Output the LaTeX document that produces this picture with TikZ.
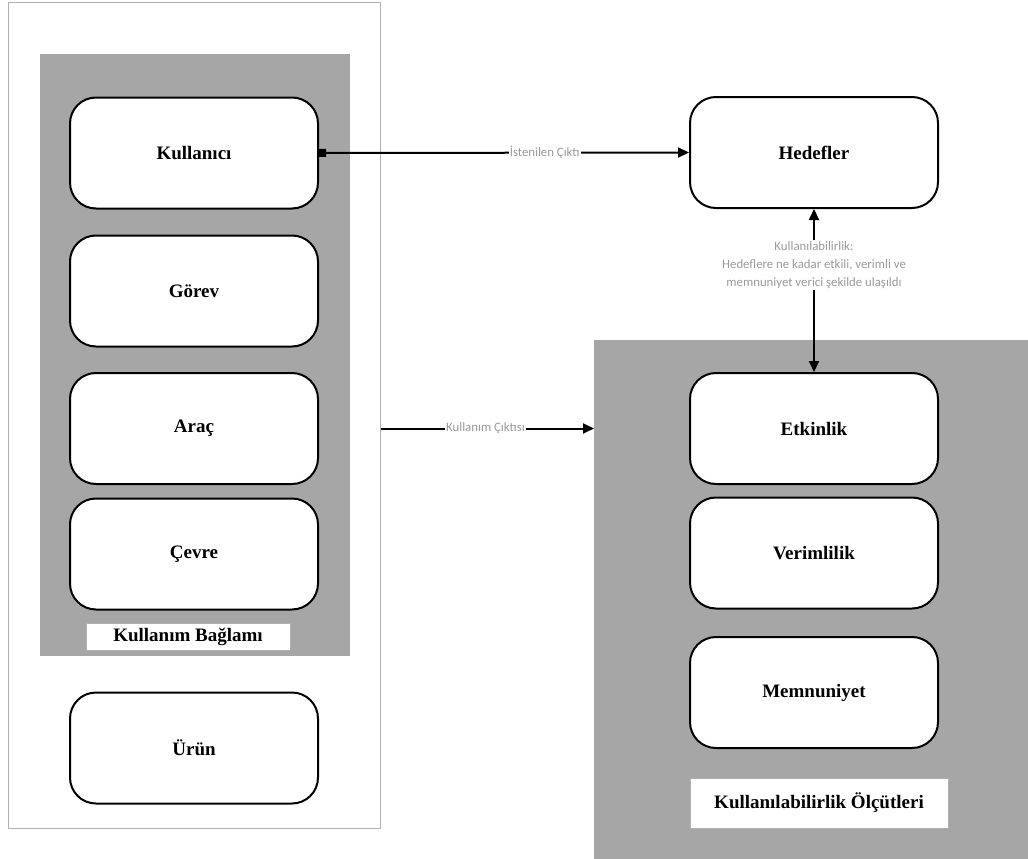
\documentclass[tikz,border=0pt]{standalone}
\usepackage{fontspec}
\setmainfont{Liberation Serif}
\newfontfamily\lblfont{Carlito}
\usetikzlibrary{arrows.meta,positioning,calc}
\definecolor{panelgray}{HTML}{A6A6A6}
\definecolor{lblgray}{HTML}{9A9A9A}
\definecolor{framegray}{HTML}{B0B0B0}
\tikzset{
  box/.style={draw=black, line width=2pt, fill=white, rounded corners=26pt,
    minimum width=248pt, minimum height=111pt, font=\fontsize{19}{22}\selectfont\bfseries, inner sep=0pt},
  panel/.style={fill=panelgray, draw=none, inner sep=0pt, anchor=north west},
  tag/.style={fill=white, draw=framegray, line width=0.8pt, inner sep=0pt, font=\fontsize{19}{22}\selectfont\bfseries},
  conn/.style={draw=black, line width=2pt, -{Triangle[length=11pt,width=10pt]}},
  clabel/.style={fill=white, inner sep=1pt, text=lblgray, font=\lblfont\fontsize{12.8}{18}\selectfont, align=center}
}
\begin{document}
\begin{tikzpicture}[x=1pt,y=-1pt]
\useasboundingbox (0,0) rectangle (1028,859);
% left frame
\node[draw=framegray, line width=1.2pt, fill=white, anchor=north west, minimum width=372pt, minimum height=826pt, inner sep=0pt] (outer) at (8,2) {};
\node[panel, minimum width=310pt, minimum height=602pt] (ctx) at (40,54) {};
% right panel
\node[panel, minimum width=434pt, minimum height=519pt] (meas) at (594,340) {};
% left boxes
\node[box] (kul) at (194,153) {Kullanıcı};
\node[box] (gor) at (194,291) {Görev};
\node[box] (arac) at (194,428.5) {Araç};
\node[box] (cev) at (194,554) {Çevre};
\node[tag, minimum width=204pt, minimum height=27pt] (ctxlbl) at (188,636.5) {Kullanım Bağlamı};
\node[box] (urun) at (194,748) {Ürün};
% right boxes
\node[box] (hed) at (814,152.5) {Hedefler};
\node[box] (etk) at (814,428.5) {Etkinlik};
\node[box] (ver) at (814,553) {Verimlilik};
\node[box] (mem) at (814,692.5) {Memnuniyet};
\node[tag, minimum width=258pt, minimum height=50pt] (measlbl) at (819,803) {Kullanılabilirlik Ölçütleri};
% connectors
\draw[conn, {Square[length=7pt,width=8pt]}-{Triangle[length=11pt,width=10pt]}] (kul.east) -- node[clabel, pos=0.61] {İstenilen Çıktı} (hed.west);
\draw[conn] (outer.east |- arac.center) -- node[clabel, pos=0.49] {Kullanım Çıktısı} (meas.west |- arac.center);
\node[clabel] (ulab) at (814,265) {Kullanılabilirlik:\\Hedeflere ne kadar etkili, verimli ve\\memnuniyet verici şekilde ulaşıldı};
\draw[conn] (ulab.north) -- (hed.south);
\draw[conn] (ulab.south) -- (etk.north);
\end{tikzpicture}
\end{document}
